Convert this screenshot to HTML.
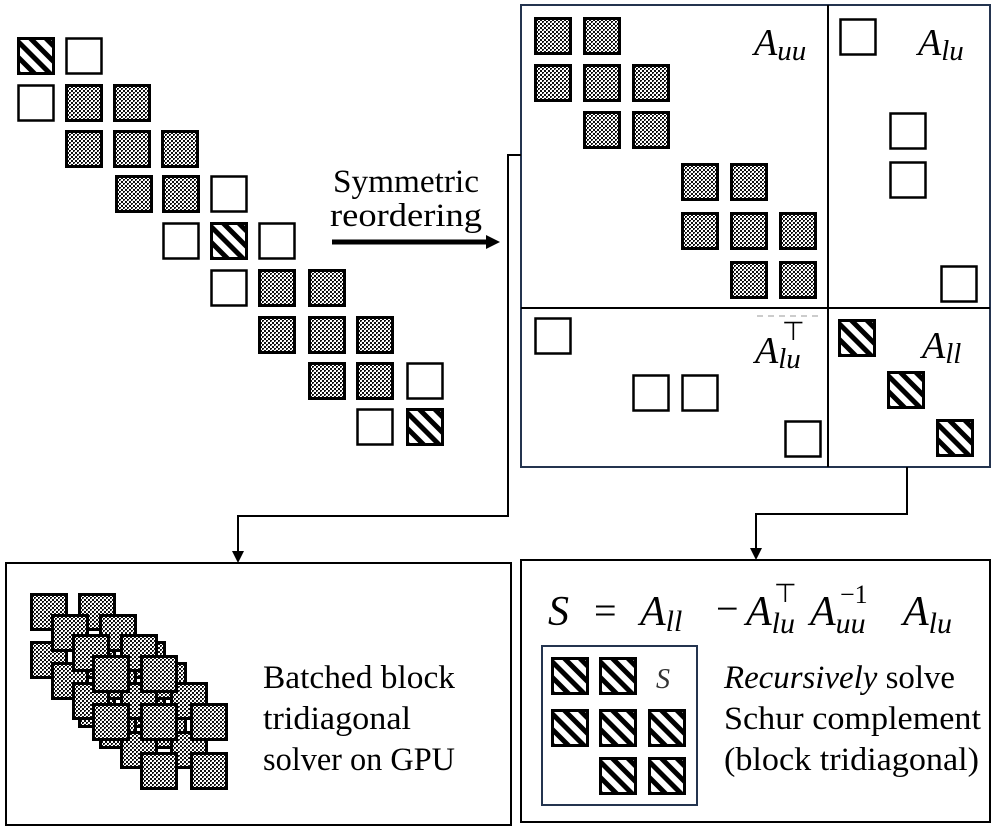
<!DOCTYPE html>
<html><head><meta charset="utf-8"><style>
html,body{margin:0;padding:0;background:#fff}
svg{display:block}
text{font-family:"Liberation Serif",serif}
.m{font-family:"Liberation Serif",serif;font-style:italic}
</style></head><body>
<svg width="997" height="830" viewBox="0 0 997 830" xmlns="http://www.w3.org/2000/svg">
<defs>
<pattern id="dot" width="4" height="4" patternUnits="userSpaceOnUse">
<rect width="4" height="4" fill="#fff"/>
<rect x="0" y="0" width="2" height="2" fill="#111"/>
<rect x="2" y="2" width="2" height="2" fill="#111"/>
<rect x="1" y="1" width="1" height="1" fill="#888"/>
</pattern>
<pattern id="hat" width="11" height="11" patternUnits="userSpaceOnUse" patternTransform="rotate(45)">
<rect width="11" height="11" fill="#fff"/>
<rect x="0" y="0" width="11" height="5" fill="#000"/>
</pattern>
<symbol id="D" viewBox="0 0 38 38"><rect x="1.5" y="1.5" width="35" height="35" fill="url(#dot)" stroke="#000" stroke-width="3"/></symbol>
<symbol id="E" viewBox="0 0 38 38"><rect x="1.5" y="1.5" width="35" height="35" fill="#fff" stroke="#000" stroke-width="2.5"/></symbol>
<symbol id="H" viewBox="0 0 38 38"><rect x="1.5" y="1.5" width="35" height="35" fill="url(#hat)" stroke="#000" stroke-width="3"/></symbol>
</defs>

<use href="#H" x="17" y="37" width="38" height="38"/>
<use href="#E" x="65" y="37" width="38" height="38"/>
<use href="#E" x="17" y="84" width="38" height="38"/>
<use href="#D" x="65" y="84" width="38" height="38"/>
<use href="#D" x="113" y="84" width="38" height="38"/>
<use href="#D" x="65" y="130" width="38" height="38"/>
<use href="#D" x="113" y="130" width="38" height="38"/>
<use href="#D" x="161" y="130" width="38" height="38"/>
<use href="#D" x="115" y="175" width="38" height="38"/>
<use href="#D" x="162" y="175" width="38" height="38"/>
<use href="#E" x="210" y="175" width="38" height="38"/>
<use href="#E" x="162" y="222" width="38" height="38"/>
<use href="#H" x="210" y="222" width="38" height="38"/>
<use href="#E" x="258" y="222" width="38" height="38"/>
<use href="#E" x="210" y="269" width="38" height="38"/>
<use href="#D" x="258" y="269" width="38" height="38"/>
<use href="#D" x="308" y="269" width="38" height="38"/>
<use href="#D" x="258" y="316" width="38" height="38"/>
<use href="#D" x="308" y="316" width="38" height="38"/>
<use href="#D" x="356" y="316" width="38" height="38"/>
<use href="#D" x="308" y="362" width="38" height="38"/>
<use href="#D" x="356" y="362" width="38" height="38"/>
<use href="#E" x="406" y="362" width="38" height="38"/>
<use href="#E" x="356" y="408" width="38" height="38"/>
<use href="#H" x="406" y="408" width="38" height="38"/>

<text x="406" y="192" font-size="33" text-anchor="middle" textLength="146" lengthAdjust="spacingAndGlyphs">Symmetric</text>
<text x="406" y="226" font-size="33" text-anchor="middle" textLength="152" lengthAdjust="spacingAndGlyphs">reordering</text>
<line x1="332" y1="242" x2="488" y2="242" stroke="#000" stroke-width="5"/>
<polygon points="486,235 500,242 486,249" fill="#000"/>

<rect x="521" y="5" width="469" height="462" fill="none" stroke="#24344f" stroke-width="2"/>
<line x1="828" y1="5" x2="828" y2="467" stroke="#000" stroke-width="2"/>
<line x1="521" y1="308" x2="990" y2="308" stroke="#000" stroke-width="2"/>
<line x1="757" y1="316" x2="820" y2="316" stroke="#999" stroke-width="1" stroke-dasharray="6,5"/>

<use href="#D" x="534" y="17" width="38" height="38"/>
<use href="#D" x="583" y="17" width="38" height="38"/>
<use href="#D" x="534" y="64" width="38" height="38"/>
<use href="#D" x="583" y="64" width="38" height="38"/>
<use href="#D" x="632" y="64" width="38" height="38"/>
<use href="#D" x="583" y="111" width="38" height="38"/>
<use href="#D" x="632" y="111" width="38" height="38"/>
<use href="#D" x="681" y="163" width="38" height="38"/>
<use href="#D" x="730" y="163" width="38" height="38"/>
<use href="#D" x="681" y="212" width="38" height="38"/>
<use href="#D" x="730" y="212" width="38" height="38"/>
<use href="#D" x="779" y="212" width="38" height="38"/>
<use href="#D" x="730" y="261" width="38" height="38"/>
<use href="#D" x="779" y="261" width="38" height="38"/>

<use href="#E" x="839" y="18" width="38" height="38"/>
<use href="#E" x="889" y="112" width="38" height="38"/>
<use href="#E" x="889" y="161" width="38" height="38"/>
<use href="#E" x="940" y="265" width="38" height="38"/>

<use href="#E" x="534" y="317" width="38" height="38"/>
<use href="#E" x="632" y="374" width="38" height="38"/>
<use href="#E" x="681" y="374" width="38" height="38"/>
<use href="#E" x="784" y="420" width="38" height="38"/>

<use href="#H" x="838" y="319" width="38" height="38"/>
<use href="#H" x="887" y="371" width="38" height="38"/>
<use href="#H" x="936" y="419" width="38" height="38"/>

<text class="m" x="754" y="55" font-size="38">A<tspan font-size="29" dy="5">uu</tspan></text>
<text class="m" x="918" y="55" font-size="38">A<tspan font-size="29" dy="5">lu</tspan></text>
<text class="m" x="755" y="363" font-size="38">A<tspan font-size="29" dy="5">lu</tspan></text>
<text x="782" y="340" font-size="26">⊤</text>
<text class="m" x="922" y="358" font-size="38">A<tspan font-size="29" dy="5">ll</tspan></text>

<polyline points="521,155 508,155 508,516 238,516 238,552" fill="none" stroke="#000" stroke-width="2"/>
<polygon points="232,551 244,551 238,563" fill="#000"/>
<polyline points="907,467 907,514 756,514 756,549" fill="none" stroke="#000" stroke-width="2"/>
<polygon points="750,548 762,548 756,560" fill="#000"/>

<rect x="6" y="563" width="505" height="262" fill="none" stroke="#000" stroke-width="2"/>
<g transform="translate(30,593)">
<use href="#D" x="0" y="0" width="38" height="38"/><use href="#D" x="48" y="0" width="38" height="38"/>
<use href="#D" x="0" y="48" width="38" height="38"/><use href="#D" x="48" y="48" width="38" height="38"/><use href="#D" x="98" y="48" width="38" height="38"/>
<use href="#D" x="48" y="97" width="38" height="38"/><use href="#D" x="98" y="97" width="38" height="38"/>
</g>
<g transform="translate(51,614)">
<use href="#D" x="0" y="0" width="38" height="38"/><use href="#D" x="48" y="0" width="38" height="38"/>
<use href="#D" x="0" y="48" width="38" height="38"/><use href="#D" x="48" y="48" width="38" height="38"/><use href="#D" x="98" y="48" width="38" height="38"/>
<use href="#D" x="48" y="97" width="38" height="38"/><use href="#D" x="98" y="97" width="38" height="38"/>
</g>
<g transform="translate(72,634)">
<use href="#D" x="0" y="0" width="38" height="38"/><use href="#D" x="48" y="0" width="38" height="38"/>
<use href="#D" x="0" y="48" width="38" height="38"/><use href="#D" x="48" y="48" width="38" height="38"/><use href="#D" x="98" y="48" width="38" height="38"/>
<use href="#D" x="48" y="97" width="38" height="38"/><use href="#D" x="98" y="97" width="38" height="38"/>
</g>
<g transform="translate(92,655)">
<use href="#D" x="0" y="0" width="38" height="38"/><use href="#D" x="48" y="0" width="38" height="38"/>
<use href="#D" x="0" y="48" width="38" height="38"/><use href="#D" x="48" y="48" width="38" height="38"/><use href="#D" x="98" y="48" width="38" height="38"/>
<use href="#D" x="48" y="97" width="38" height="38"/><use href="#D" x="98" y="97" width="38" height="38"/>
</g>
<text x="263" y="688" font-size="33" textLength="192" lengthAdjust="spacingAndGlyphs">Batched block</text>
<text x="263" y="729" font-size="33" textLength="148" lengthAdjust="spacingAndGlyphs">tridiagonal</text>
<text x="263" y="770" font-size="33" textLength="192" lengthAdjust="spacingAndGlyphs">solver on GPU</text>

<rect x="521" y="560" width="469" height="262" fill="none" stroke="#000" stroke-width="2"/>
<text class="m" x="548" y="625" font-size="42">S</text>
<text x="594" y="624" font-size="40">=</text>
<text class="m" x="640" y="625" font-size="42">A<tspan font-size="30" dy="6">ll</tspan></text>
<text x="716" y="622" font-size="40">−</text>
<text class="m" x="746" y="625" font-size="42">A<tspan font-size="30" dy="8">lu</tspan></text>
<text x="774" y="602" font-size="26">⊤</text>
<text class="m" x="810" y="625" font-size="42">A<tspan font-size="30" dy="8">uu</tspan></text>
<text x="840" y="603" font-size="26">−1</text>
<text class="m" x="903" y="625" font-size="42">A<tspan font-size="30" dy="8">lu</tspan></text>

<rect x="542" y="646" width="155" height="159" fill="none" stroke="#24344f" stroke-width="2"/>
<use href="#H" x="551" y="657" width="38" height="38"/>
<use href="#H" x="599" y="657" width="38" height="38"/>
<use href="#H" x="551" y="709" width="38" height="38"/>
<use href="#H" x="599" y="709" width="38" height="38"/>
<use href="#H" x="648" y="709" width="38" height="38"/>
<use href="#H" x="599" y="757" width="38" height="38"/>
<use href="#H" x="648" y="757" width="38" height="38"/>
<text class="m" x="656" y="688" font-size="28" fill="#333">S</text>

<text x="724" y="688" font-size="33" textLength="231" lengthAdjust="spacingAndGlyphs"><tspan font-style="italic">Recursively</tspan> solve</text>
<text x="724" y="729" font-size="33" textLength="257" lengthAdjust="spacingAndGlyphs">Schur complement</text>
<text x="724" y="770" font-size="33" textLength="255" lengthAdjust="spacingAndGlyphs">(block tridiagonal)</text>
</svg>
</body></html>
